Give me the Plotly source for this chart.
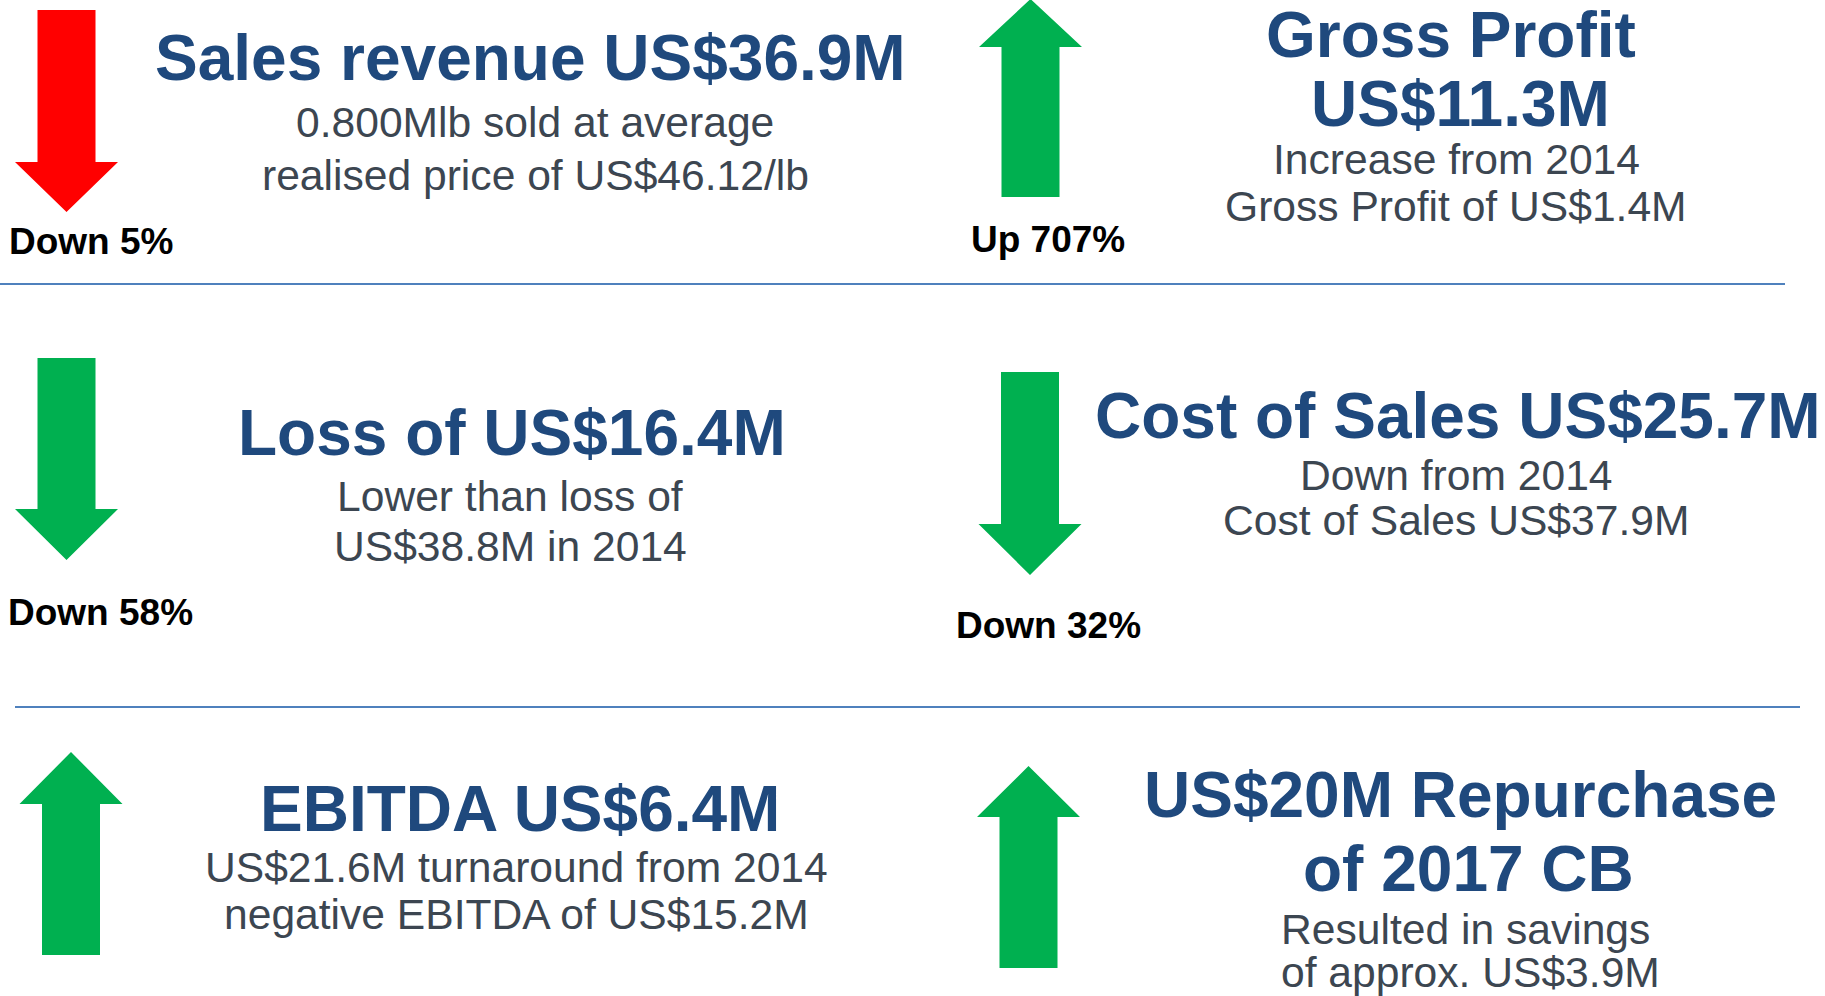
import plotly.graph_objects as go

W, H = 1825, 996

# ---------------- data ----------------
titles = [
    ["Sales revenue US$36.9M"],
    ["Gross Profit", "US$11.3M"],
    ["Loss of US$16.4M"],
    ["Cost of Sales US$25.7M"],
    ["EBITDA US$6.4M"],
    ["US$20M Repurchase", "of 2017 CB"],
]
subtitles = [
    ["0.800Mlb sold at average", "realised price of US$46.12/lb"],
    ["Increase from 2014", "Gross Profit of US$1.4M"],
    ["Lower than loss of", "US$38.8M in 2014"],
    ["Down from 2014", "Cost of Sales US$37.9M"],
    ["US$21.6M turnaround from 2014", "negative EBITDA of US$15.2M"],
    ["Resulted in savings", "of approx. US$3.9M"],
]
change_labels = ["Down 5%", "Up 707%", "Down 58%", "Down 32%", "", ""]
directions = ["down", "up", "down", "down", "up", "up"]
arrow_colors = ["#FF0000", "#00B050", "#00B050", "#00B050", "#00B050", "#00B050"]

# ---------------- layout (pixel positions) ----------------
# arrow: centre x, tail y, head-base y, tip y
arrow_cx = [66.5, 1030.5, 66.5, 1030.0, 71.0, 1028.5]
arrow_tail = [10, 197, 358, 372, 955, 968]
arrow_headbase = [162, 47, 509, 524, 804, 817]
arrow_tip = [212, -1, 560, 575, 752, 766]
SHAFT_HW, HEAD_HW = 29, 51.5

label_x = [7, 969, 6, 954, 0, 0]
label_y = [241, 239, 612, 625, 0, 0]

# centre x of each title line
title_cx = [[530], [1451, 1460], [512], [1458], [520], [1460, 1468]]
title_y0 = [58, 35, 433, 416, 809, 795]
title_dy = [0, 69, 0, 0, 0, 74]

sub_x = [535, 1456, 510, 1456, 516, 1279]
sub_anchor = ["center", "center", "center", "center", "center", "left"]
sub_y0 = [122, 159, 496, 475, 867, 929]
sub_dy = [53, 47, 50, 45, 47, 43]

sep_lines = [(0, 1785, 284), (15, 1800, 707)]

TITLE_COLOR = "#1F497D"
SUB_COLOR = "#3C4651"
FONT = "Arial, Liberation Sans, sans-serif"
TITLE_SIZE, SUB_SIZE, LABEL_SIZE = 64, 42.6, 37

fig = go.Figure()
shapes = []
annotations = []

for i in range(len(titles)):
    cx = arrow_cx[i]
    t, hb, tip = arrow_tail[i], arrow_headbase[i], arrow_tip[i]
    path = (f"M {cx-SHAFT_HW},{t} L {cx+SHAFT_HW},{t} L {cx+SHAFT_HW},{hb} "
            f"L {cx+HEAD_HW},{hb} L {cx},{tip} L {cx-HEAD_HW},{hb} "
            f"L {cx-SHAFT_HW},{hb} Z")
    shapes.append(dict(type="path", path=path, xref="x", yref="y",
                       fillcolor=arrow_colors[i], line=dict(width=0),
                       layer="above"))
    if change_labels[i]:
        annotations.append(dict(x=label_x[i], y=label_y[i], xref="x", yref="y",
                                text=f"<b>{change_labels[i]}</b>", showarrow=False,
                                xanchor="left", yanchor="middle",
                                font=dict(family=FONT, size=LABEL_SIZE, color="#000000")))
    for j, line in enumerate(titles[i]):
        annotations.append(dict(x=title_cx[i][j], y=title_y0[i] + j * title_dy[i],
                                xref="x", yref="y", text=f"<b>{line}</b>",
                                showarrow=False, xanchor="center", yanchor="middle",
                                font=dict(family=FONT, size=TITLE_SIZE, color=TITLE_COLOR)))
    for j, line in enumerate(subtitles[i]):
        annotations.append(dict(x=sub_x[i], y=sub_y0[i] + j * sub_dy[i],
                                xref="x", yref="y", text=line,
                                showarrow=False, xanchor=sub_anchor[i], yanchor="middle",
                                font=dict(family=FONT, size=SUB_SIZE, color=SUB_COLOR)))

for x0, x1, y in sep_lines:
    shapes.append(dict(type="line", x0=x0, x1=x1, y0=y, y1=y, xref="x", yref="y",
                       line=dict(color="#4F81BD", width=2)))

fig.update_layout(
    width=W, height=H,
    margin=dict(l=0, r=0, t=0, b=0),
    paper_bgcolor="white", plot_bgcolor="white",
    xaxis=dict(range=[0, W], visible=False, fixedrange=True),
    yaxis=dict(range=[H, 0], visible=False, fixedrange=True),
    shapes=shapes, annotations=annotations,
    showlegend=False,
)

fig.write_html("out.html", config={"displayModeBar": False},
               post_script="document.body.style.margin='0';document.body.style.overflow='hidden';")
